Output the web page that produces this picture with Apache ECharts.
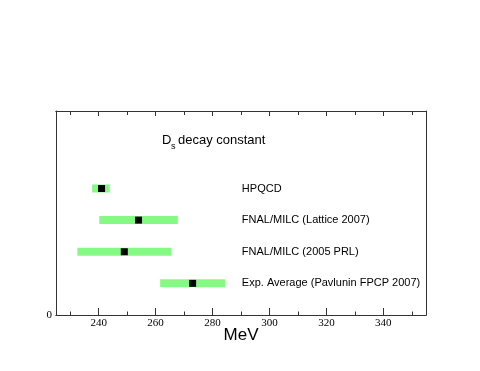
<!DOCTYPE html>
<html lang="en" style="height: 100%">
<head>
  <meta charset="utf-8">
  <title>Ds decay constant</title>
</head>
<body style="height: 100%; margin: 0; background: #fff">
  <div id="container" style="width: 480px; height: 371px"></div>
  <script type="text/javascript" src="https://cdn.jsdelivr.net/npm/echarts@6/dist/echarts.min.js"></script>
  <script type="text/javascript">
    // data
    var labels = ['HPQCD', 'FNAL/MILC (Lattice 2007)', 'FNAL/MILC (2005 PRL)', 'Exp. Average (Pavlunin FPCP 2007)'];
    var rows = [4, 3, 2, 1];
    var centers = [241, 254, 249, 273];
    var lows = [237.7, 240.2, 232.5, 261.6];
    var highs = [243.9, 267.8, 265.5, 284.4];
    var majorTicks = [240, 260, 280, 300, 320, 340];
    var minorTicks = [230, 250, 270, 290, 310, 330, 350];
    var labelX = 290.3;

    var dom = document.getElementById('container');
    var myChart = echarts.init(dom, null, { renderer: 'canvas' });

    var items = labels.map(function (name, i) {
      return [lows[i], highs[i], centers[i], rows[i], name];
    });

    function tickAxis(pos, vals, len, showLabel) {
      return {
        type: 'value',
        position: pos,
        min: 225,
        max: 355,
        axisLine: { show: true, onZero: false, lineStyle: { color: '#333', width: 1 } },
        axisTick: { show: true, inside: true, length: len, customValues: vals, lineStyle: { color: '#333' } },
        axisLabel: showLabel ? {
          show: true, customValues: vals, margin: 3,
          fontFamily: 'Liberation Serif', fontSize: 11, color: '#000'
        } : { show: false },
        splitLine: { show: false }
      };
    }

    var option = {
      animation: false,
      grid: { left: 56, right: 54, top: 111, bottom: 56 },
      xAxis: [
        Object.assign(tickAxis('bottom', majorTicks, 7, true), {
          name: 'MeV', nameLocation: 'middle', nameGap: 12, nameMoveOverlap: false,
          nameTextStyle: { fontFamily: 'Liberation Sans', fontSize: 17, color: '#000' }
        }),
        tickAxis('bottom', minorTicks, 3.5, false),
        tickAxis('top', majorTicks, 5, false),
        tickAxis('top', minorTicks, 4, false)
      ],
      yAxis: [{
        type: 'value',
        min: 0,
        max: 6.45,
        axisLine: { show: true, lineStyle: { color: '#333' } },
        axisTick: { show: false },
        splitLine: { show: false },
        axisLabel: {
          customValues: [0], margin: 4,
          fontFamily: 'Liberation Serif', fontSize: 11, color: '#000'
        }
      }, {
        type: 'value',
        position: 'right',
        min: 0,
        max: 6.45,
        axisLine: { show: true, lineStyle: { color: '#333' } },
        axisTick: { show: false },
        splitLine: { show: false },
        axisLabel: { show: false }
      }],
      graphic: [
        { type: 'text', left: 162, top: 134, style: { text: 'D', font: '13px "Liberation Sans"', fill: '#000' } },
        { type: 'text', left: 171, top: 142, style: { text: 's', font: '9px "Liberation Sans"', fill: '#000' } },
        { type: 'text', left: 178, top: 134, style: { text: 'decay constant', font: '13px "Liberation Sans"', fill: '#000' } }
      ],
      series: [{
        type: 'custom',
        xAxisIndex: 0,
        yAxisIndex: 0,
        data: items,
        renderItem: function (params, api) {
          var y = api.value(3);
          var a = api.coord([api.value(0), y]);
          var b = api.coord([api.value(1), y]);
          var c = api.coord([api.value(2), y]);
          var t = api.coord([labelX, y]);
          return {
            type: 'group',
            children: [
              { type: 'rect', shape: { x: a[0], y: a[1] - 4, width: b[0] - a[0], height: 8 },
                style: { fill: '#84fa84' } },
              { type: 'rect', shape: { x: c[0] - 3.5, y: c[1] - 3.5, width: 7, height: 7 },
                style: { fill: '#000' } },
              { type: 'text', x: t[0], y: t[1],
                style: { text: api.value(4), font: '11px "Liberation Sans"', fill: '#000',
                         align: 'left', verticalAlign: 'middle' } }
            ]
          };
        }
      }]
    };
    myChart.setOption(option);
    window.addEventListener('resize', myChart.resize);
  </script>
</body>
</html>
